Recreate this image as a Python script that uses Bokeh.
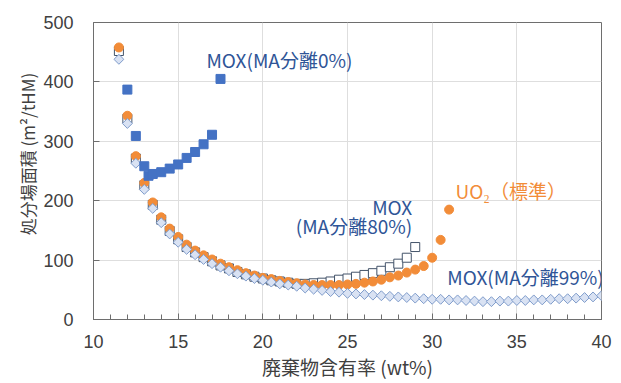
import math
from bokeh.plotting import figure
from bokeh.models import Label, SingleIntervalTicker, Range1d
from bokeh.embed import file_html
from bokeh.resources import INLINE

# ---- data ----
mox0_x = [12.0, 12.5, 13.0, 13.25, 13.5, 14.0, 14.5, 15.0, 15.5, 16.0, 16.5, 17.0, 17.5]
mox0_y = [387, 309, 258, 242, 245, 248, 254, 261, 272, 282, 295, 311, 405]

uo2_x = [11.5, 12.0, 12.5, 13.0, 13.5, 14.0, 14.5, 15.0, 15.5, 16.0, 16.5, 17.0, 17.5,
         18.0, 18.5, 19.0, 19.5, 20.0, 20.5, 21.0, 21.5, 22.0, 22.5, 23.0, 23.5, 24.0,
         24.5, 25.0, 25.5, 26.0, 26.5, 27.0, 27.5, 28.0, 28.5, 29.0, 29.5, 30.0, 30.5, 31.0]
uo2_y = [458, 343, 275, 230, 197, 172, 153, 139, 126, 116, 108, 101, 94,
         88, 83, 78, 74, 70, 68, 65, 63, 61, 59, 58, 58, 58,
         58, 59, 60, 62, 64, 67, 71, 74, 79, 84, 90, 104, 134, 185]

mox80_x = [11.5, 12.0, 12.5, 13.0, 13.5, 14.0, 14.5, 15.0, 15.5, 16.0, 16.5, 17.0, 17.5,
           18.0, 18.5, 19.0, 19.5, 20.0, 20.5, 21.0, 21.5, 22.0, 22.5, 23.0, 23.5, 24.0,
           24.5, 25.0, 25.5, 26.0, 26.5, 27.0, 27.5, 28.0, 28.5, 29.0]
mox80_y = [452, 338, 271, 226, 193, 168, 149, 135, 122, 113, 105, 98, 91,
           86, 80, 76, 72, 69, 66, 64, 62, 60, 60, 61, 62, 64,
           67, 69, 72, 75, 78, 82, 88, 94, 104, 122]

mox99_x = [11.5, 12.0, 12.5, 13.0, 13.5, 14.0, 14.5, 15.0, 15.5, 16.0, 16.5, 17.0, 17.5,
           18.0, 18.5, 19.0, 19.5, 20.0, 20.5, 21.0, 21.5, 22.0, 22.5, 23.0, 23.5, 24.0,
           24.5, 25.0, 25.5, 26.0, 26.5, 27.0, 27.5, 28.0, 28.5, 29.0, 29.5, 30.0, 30.5,
           31.0, 31.5, 32.0, 32.5, 33.0, 33.5, 34.0, 34.5, 35.0, 35.5, 36.0, 36.5, 37.0,
           37.5, 38.0, 38.5, 39.0, 39.5, 40.0]
mox99_y = [438, 330, 263, 219, 187, 163, 144, 130, 118, 109, 101, 94, 88,
           82, 77, 73, 69, 66, 63, 60, 58, 56, 53, 51, 49, 47,
           46, 44, 43, 42, 41, 40, 39, 38, 37, 36, 35, 34, 34,
           33, 33, 32, 31, 30, 30, 31, 31, 32, 32, 33, 33, 34,
           35, 35, 36, 37, 38, 40]

x_label = "廃棄物含有率 (wt%)"
y_label = "処分場面積 (m²/tHM)"
lbl_mox0 = "MOX(MA分離0%)"
lbl_mox80_1 = "MOX"
lbl_mox80_2 = "(MA分離80%)"
lbl_uo2 = "UO₂（標準）"
lbl_mox99 = "MOX(MA分離99%)"

# ---- figure ----
W, H = 613, 383
p = figure(width=W, height=H, output_backend="svg", toolbar_location=None,
           x_range=Range1d(10, 40), y_range=Range1d(0, 500),
           min_border_left=93, min_border_right=W - 601, min_border_top=22,
           min_border_bottom=H - 319)
p.background_fill_color = "white"
p.border_fill_color = "white"
p.outline_line_color = "#6e6e6e"
p.outline_line_width = 1

p.xaxis.ticker = SingleIntervalTicker(interval=5, num_minor_ticks=5)
p.yaxis.ticker = SingleIntervalTicker(interval=100, num_minor_ticks=0)

for ax in (p.xaxis[0], p.yaxis[0]):
    ax.axis_line_color = "#6e6e6e"
    ax.major_tick_line_color = "#6e6e6e"
    ax.minor_tick_line_color = "#6e6e6e"
    ax.major_tick_in = 6
    ax.major_tick_out = 0
    ax.minor_tick_in = 5
    ax.minor_tick_out = 0
    ax.major_label_text_font = "Liberation Sans"
    ax.major_label_text_font_size = "18px"
    ax.major_label_text_color = "#404040"
    ax.axis_label_text_font = "Noto Sans CJK JP"
    ax.axis_label_text_font_style = "normal"
    ax.axis_label_text_color = "#404040"

p.xaxis.axis_label_text_font_size = "19px"
p.yaxis.axis_label_text_font_size = "17px"
p.yaxis.minor_tick_line_color = None
p.yaxis.major_label_standoff = 20
p.xaxis.major_label_standoff = 15
p.xaxis.axis_label_standoff = 2
p.yaxis.axis_label_standoff = 0
p.xaxis.axis_label = x_label
p.yaxis.axis_label = "\u3000\u3000" + y_label

p.xgrid.ticker = SingleIntervalTicker(interval=5)
p.ygrid.ticker = SingleIntervalTicker(interval=100)
p.xgrid.grid_line_color = "#dedede"
p.ygrid.grid_line_color = "#dedede"

# ---- markers ----
p.scatter(mox80_x, mox80_y, marker="square", size=9, fill_color="white",
          line_color="#44546A", line_width=1)
p.scatter(uo2_x, uo2_y, marker="circle", size=9, fill_color="#F28C38",
          line_color="#F28C38", line_width=1)
p.scatter(mox99_x, mox99_y, marker="square", angle=math.pi / 4, size=7,
          fill_color="#D9E2F3", line_color="#7F9CCB", line_width=1)
p.scatter(mox0_x, mox0_y, marker="square", size=9, fill_color="#4472C4",
          line_color="#4472C4", line_width=1)

# ---- labels ----
blue = "#2F5597"
fnt = "Noto Sans CJK JP"
fs = "19px"
p.add_layout(Label(x=16.67, y=437, text=lbl_mox0, text_font=fnt, text_font_size=fs,
                   text_color=blue, text_baseline="alphabetic"))
p.add_layout(Label(x=28.82, y=191, text=lbl_mox80_1, text_font=fnt, text_font_size=fs,
                   text_color=blue, text_align="right", text_baseline="alphabetic"))
p.add_layout(Label(x=28.82, y=158, text=lbl_mox80_2, text_font=fnt, text_font_size=fs,
                   text_color=blue, text_align="right", text_baseline="alphabetic"))
p.add_layout(Label(x=31.38, y=217, text=lbl_uo2, text_font=fnt, text_font_size=fs,
                   text_color="#F28C38", text_baseline="alphabetic"))
p.add_layout(Label(x=30.89, y=73, text=lbl_mox99, text_font=fnt, text_font_size=fs,
                   text_color=blue, text_baseline="alphabetic"))

open("out.html", "w").write(file_html(p, INLINE))
